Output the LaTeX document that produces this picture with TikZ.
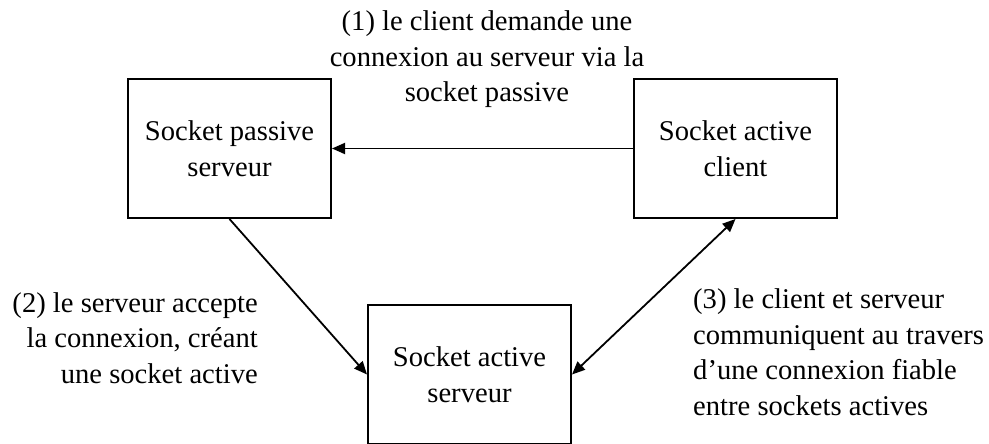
\documentclass[tikz,border=0pt]{standalone}
\usepackage{fontspec}
\setmainfont{Liberation Serif}
\usetikzlibrary{arrows.meta}

\tikzset{
  sockbox/.style={draw, line width=2pt, minimum width=203pt, minimum height=139pt,
    align=center, inner sep=0pt, font=\fontsize{28.6}{35.5}\selectfont},
  lbl/.style={inner sep=0pt, font=\fontsize{28.6}{35.5}\selectfont},
  conn/.style={line width=1.8pt, -{Triangle[length=13pt,width=11pt]}},
  biconn/.style={line width=1.8pt, {Triangle[length=13pt,width=11pt]}-{Triangle[length=13pt,width=11pt]}}
}

\begin{document}
\begin{tikzpicture}[x=1pt,y=-1pt]
  \useasboundingbox[fill=white] (0,0) rectangle (989,444);

  % the three sockets
  \node[sockbox] (passive) at (229.5,148.5) {Socket passive\\serveur};
  \node[sockbox] (client)  at (735.5,148.5) {Socket active\\client};
  \node[sockbox] (active)  at (469.5,374.5) {Socket active\\serveur};

  % connections between sockets
  \draw[conn] (client.west) -- (passive.east);
  \draw[conn] (passive.south) -- (active.west);
  \draw[biconn] (active.east) -- (client.south);

  % step descriptions (anchored on the baseline of their last line)
  \node[lbl, align=center, anchor=base] (step1) at (487,102)
    {(1) le client demande une\\connexion au serveur via la\\socket passive};
  \node[lbl, align=right, anchor=base east] (step2) at (258,383)
    {(2) le serveur accepte\\la connexion, créant\\une socket active};
  \node[lbl, align=left, anchor=base west] (step3) at (693,415)
    {(3) le client et serveur\\communiquent au travers\\d’une connexion fiable\\entre sockets actives};
\end{tikzpicture}
\end{document}
